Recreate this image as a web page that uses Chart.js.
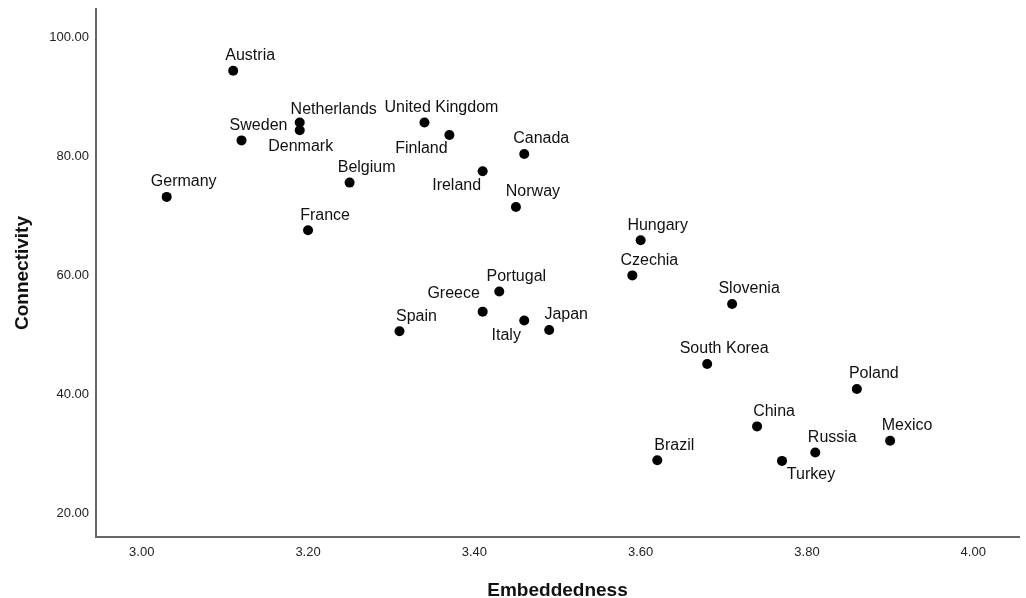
<!DOCTYPE html>
<html>
<head>
<meta charset="utf-8">
<script src="https://cdn.jsdelivr.net/npm/chart.js@4/dist/chart.umd.min.js"></script>
<style>
  html, body { margin: 0; padding: 0; background: #fff; }
  #wrap { width: 1026px; height: 598px; position: relative; }
</style>
</head>
<body>
<div id="wrap"><canvas id="js--chart"></canvas></div>
<script>
const countries = [
  "Austria", "Netherlands", "Denmark", "Sweden", "Germany", "Belgium", "France",
  "United Kingdom", "Finland", "Ireland", "Canada", "Norway", "Hungary", "Czechia",
  "Portugal", "Greece", "Spain", "Italy", "Japan", "Slovenia", "South Korea",
  "Poland", "China", "Mexico", "Russia", "Turkey", "Brazil"
];
const embeddedness = [
  3.11, 3.19, 3.19, 3.12, 3.03, 3.25, 3.20,
  3.34, 3.37, 3.41, 3.46, 3.45, 3.60, 3.59,
  3.43, 3.41, 3.31, 3.46, 3.49, 3.71, 3.68,
  3.86, 3.74, 3.90, 3.81, 3.77, 3.62
];
const connectivity = [
  94.4, 85.7, 84.4, 82.7, 73.2, 75.6, 67.6,
  85.7, 83.6, 77.5, 80.4, 71.5, 65.9, 60.0,
  57.3, 53.9, 50.6, 52.4, 50.8, 55.2, 45.1,
  40.9, 34.6, 32.2, 30.2, 28.8, 28.9
];
const xTicks = [3.0, 3.2, 3.4, 3.6, 3.8, 4.0];
const yTicks = [20, 40, 60, 80, 100];

// where each name sits relative to its dot (label centre, px)
const defaultOffset = [17, -15];
const labelOffsets = {
  "Netherlands": [34, -13],
  "Denmark": [1, 16],
  "Finland": [-28, 14],
  "Ireland": [-26, 14],
  "Greece": [-29, -18],
  "Italy": [-18, 15],
  "Turkey": [29, 14]
};

const points = countries.map((c, i) => ({ x: embeddedness[i], y: connectivity[i] }));

const pointLabels = {
  id: "pointLabels",
  afterDatasetsDraw(chart) {
    const ctx = chart.ctx;
    const meta = chart.getDatasetMeta(0);
    ctx.save();
    ctx.font = "16px 'Liberation Sans', Arial, sans-serif";
    ctx.fillStyle = "#111";
    ctx.textAlign = "center";
    ctx.textBaseline = "middle";
    meta.data.forEach((pt, i) => {
      const off = labelOffsets[countries[i]] || defaultOffset;
      ctx.fillText(countries[i], pt.x + off[0], pt.y + off[1]);
    });
    ctx.restore();
  }
};

const config = {
  type: "scatter",
  data: {
    datasets: [{
      data: points,
      backgroundColor: "#000",
      borderWidth: 0,
      pointRadius: 5,
      pointHoverRadius: 5
    }]
  },
  options: {
    responsive: true,
    maintainAspectRatio: false,
    animation: false,
    layout: { padding: { top: 9, right: 7, bottom: 0, left: 0 } },
    plugins: { legend: { display: false }, tooltip: { enabled: false } },
    scales: {
      x: {
        type: "linear",
        min: 2.945,
        max: 4.055,
        afterBuildTicks: (s) => { s.ticks = xTicks.map(v => ({ value: v })); },
        afterFit: (s) => { s.height = 61; s.paddingLeft = 0; s.paddingRight = 0; },
        grid: { display: false, drawTicks: false },
        border: { display: true, color: "#666", width: 2 },
        ticks: {
          padding: 8,
          color: "#222",
          font: { family: "'Liberation Sans', Arial, sans-serif", size: 13 },
          callback: (v) => Number(v).toFixed(2)
        },
        title: {
          display: true,
          text: "Embeddedness",
          color: "#111",
          font: { family: "'Liberation Sans', Arial, sans-serif", size: 19, weight: "bold" },
          padding: { top: 0, bottom: -4 }
        }
      },
      y: {
        type: "linear",
        min: 16,
        max: 104.8,
        afterBuildTicks: (s) => { s.ticks = yTicks.map(v => ({ value: v })); },
        afterFit: (s) => { s.width = 96; s.paddingTop = 0; s.paddingBottom = 0; },
        grid: { display: false, drawTicks: false },
        border: { display: true, color: "#666", width: 2 },
        ticks: {
          padding: 7,
          color: "#222",
          font: { family: "'Liberation Sans', Arial, sans-serif", size: 13 },
          callback: (v) => Number(v).toFixed(2)
        },
        title: {
          display: true,
          text: "Connectivity",
          color: "#111",
          font: { family: "'Liberation Sans', Arial, sans-serif", size: 19, weight: "bold" },
          padding: { top: 11, bottom: 0 }
        }
      }
    }
  },
  plugins: [pointLabels]
};

const chart1 = new Chart(document.getElementById("js--chart"), config);
</script>
</body>
</html>
